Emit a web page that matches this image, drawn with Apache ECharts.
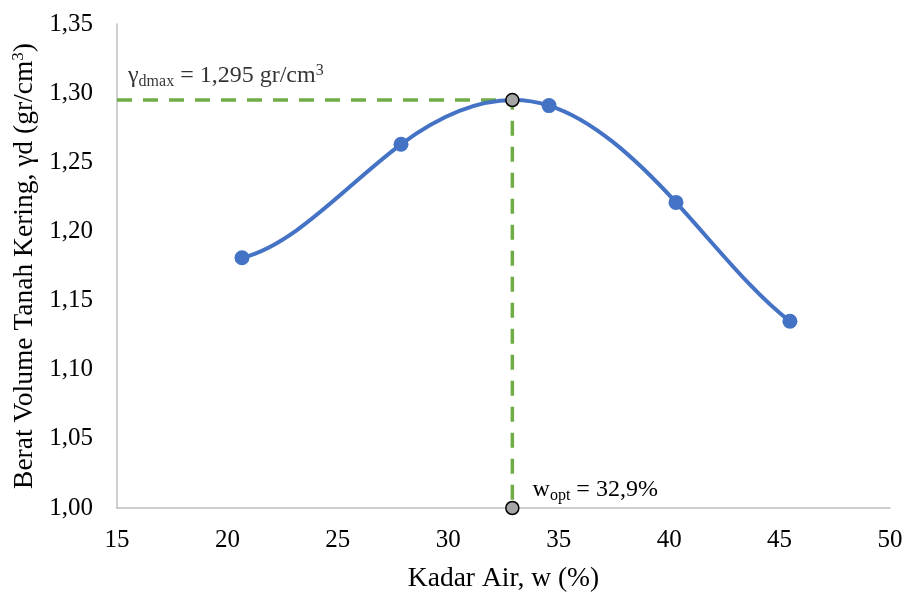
<!DOCTYPE html>
<html>
<head>
<meta charset="utf-8">
<script src="https://cdn.jsdelivr.net/npm/echarts@6/dist/echarts.min.js"></script>
<style>html,body{margin:0;padding:0;background:#fff}#c{width:909px;height:593px}</style>
</head>
<body>
<div id="c"></div>
<script>
// Data
const kadarAir = [20.66, 27.86, 34.56, 40.31, 45.47];
const beratVolume = [1.181, 1.263, 1.291, 1.221, 1.135];
const wOpt = 32.9;
const gammaDmax = 1.295;
const xMin = 15, xMax = 50, xStep = 5;
const yMin = 1.00, yMax = 1.35, yStep = 0.05;

// Polynomial (order 4) trend through the points: Newton coefficients and slopes at the points
function newtonCoeffs(xs, ys) {
  const c = ys.slice();
  for (let j = 1; j < xs.length; j++)
    for (let i = xs.length - 1; i >= j; i--)
      c[i] = (c[i] - c[i - 1]) / (xs[i] - xs[i - j]);
  return c;
}
function slopeAt(xs, c, x) {
  let p = c[c.length - 1], d = 0;
  for (let k = c.length - 2; k >= 0; k--) { d = d * (x - xs[k]) + p; p = p * (x - xs[k]) + c[k]; }
  return d;
}
const coeffs = newtonCoeffs(kadarAir, beratVolume);
const slopes = kadarAir.map(x => slopeAt(kadarAir, coeffs, x));

const font = 'Liberation Serif, Times New Roman, serif';
const chart = echarts.init(document.getElementById('c'));
chart.setOption({
  animation: false,
  backgroundColor: '#fff',
  grid: { left: 117, right: 19, top: 24, bottom: 85, containLabel: false, outerBoundsMode: 'none' },
  xAxis: {
    type: 'value', min: xMin, max: xMax, interval: xStep,
    name: 'Kadar Air, w (%)', nameLocation: 'middle', nameGap: 57,
    nameTextStyle: { fontFamily: font, fontSize: 27.5, color: '#000' },
    axisLine: { lineStyle: { color: '#bfbfbf', width: 1.5 } },
    axisTick: { show: false },
    splitLine: { show: false },
    axisLabel: { fontFamily: font, fontSize: 25, color: '#000', margin: 20 }
  },
  yAxis: {
    type: 'value', min: yMin, max: yMax, interval: yStep,
    name: '{t|Berat Volume Tanah Kering, γd (gr/cm}{s|3}{t|)}',
    nameLocation: 'middle', nameGap: 70, nameRotate: 90,
    nameTextStyle: { fontFamily: font, fontSize: 27.5, color: '#000',
      rich: { t: { fontFamily: font, fontSize: 27.5, color: '#000' },
              s: { fontFamily: font, fontSize: 17, color: '#000', padding: [0, 0, 12, 0] } } },
    axisLine: { show: true, lineStyle: { color: '#bfbfbf', width: 1.5 } },
    axisTick: { show: false },
    splitLine: { show: false },
    axisLabel: { fontFamily: font, fontSize: 25, color: '#000', margin: 24,
      formatter: v => v.toFixed(2).replace('.', ',') }
  },
  series: [
    {
      type: 'line', name: 'guide',
      data: [[xMin, gammaDmax], [wOpt, gammaDmax], [wOpt, yMin]],
      symbol: 'none',
      lineStyle: { color: '#70ad47', width: 3.5, type: [15, 11] },
      z: 2
    },
    {
      type: 'custom', name: 'curve',
      data: kadarAir.map((x, i) => [x, beratVolume[i]]),
      encode: { x: 0, y: 1 },
      z: 3,
      renderItem: (params, api) => {
        if (params.dataIndex !== 0) return;
        const children = [];
        for (let i = 0; i < kadarAir.length - 1; i++) {
          const h = kadarAir[i + 1] - kadarAir[i];
          const a = api.coord([kadarAir[i], beratVolume[i]]);
          const b = api.coord([kadarAir[i] + h / 3, beratVolume[i] + slopes[i] * h / 3]);
          const c = api.coord([kadarAir[i + 1] - h / 3, beratVolume[i + 1] - slopes[i + 1] * h / 3]);
          const d = api.coord([kadarAir[i + 1], beratVolume[i + 1]]);
          children.push({
            type: 'bezierCurve',
            shape: { x1: a[0], y1: a[1], cpx1: b[0], cpy1: b[1], cpx2: c[0], cpy2: c[1], x2: d[0], y2: d[1] },
            style: { stroke: '#4472c4', lineWidth: 4, fill: null, lineCap: 'round' }
          });
        }
        return { type: 'group', children };
      }
    },
    {
      type: 'scatter', name: 'data',
      data: kadarAir.map((x, i) => [x, beratVolume[i]]),
      symbol: 'circle', symbolSize: 15,
      itemStyle: { color: '#4472c4', opacity: 1 },
      z: 4
    },
    {
      type: 'scatter', name: 'opt',
      data: [
        { value: [wOpt, gammaDmax] },
        { value: [wOpt, yMin], label: {
            show: true, position: 'right', offset: [8, -18],
            formatter: '{t|w}{s|opt}{t| = 32,9%}',
            rich: { t: { fontFamily: font, fontSize: 24, color: '#000' },
                    s: { fontFamily: font, fontSize: 16, color: '#000', padding: [12, 0, 0, 0] } } } }
      ],
      symbol: 'circle', symbolSize: 13,
      itemStyle: { color: '#a5a5a5', borderColor: '#000', borderWidth: 1.5, opacity: 1 },
      z: 5
    },
    {
      type: 'scatter', name: 'labelAnchor',
      data: [{ value: [xMin, gammaDmax], label: {
          show: true, position: 'right', offset: [6, -24],
          formatter: '{t|γ}{s|dmax}{t| = 1,295 gr/cm}{p|3}',
          rich: { t: { fontFamily: font, fontSize: 24, color: '#000' },
                  s: { fontFamily: font, fontSize: 16, color: '#000', padding: [12, 0, 0, 0] },
                  p: { fontFamily: font, fontSize: 16, color: '#000', padding: [0, 0, 10, 0] } } } }],
      symbolSize: 0,
      itemStyle: { color: 'transparent' },
      z: 6
    }
  ]
});
</script>
</body>
</html>
